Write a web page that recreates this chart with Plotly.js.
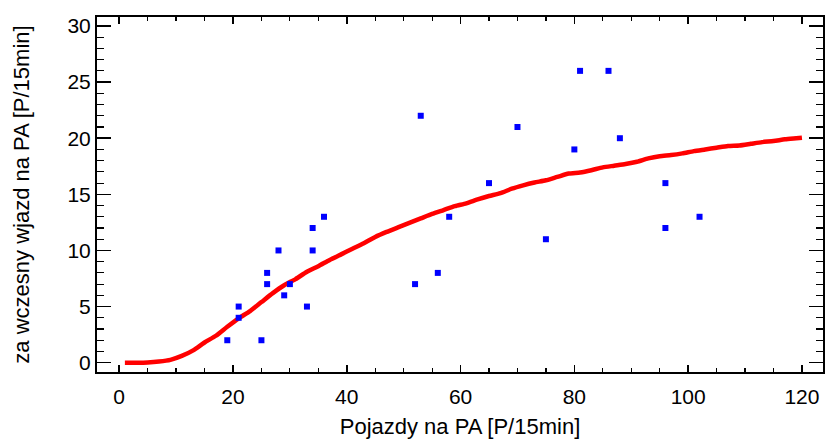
<!DOCTYPE html>
<html>
<head>
<meta charset="utf-8">
<script src="https://cdn.plot.ly/plotly-3.0.1.min.js"></script>
<style>html,body{margin:0;padding:0;background:#fff;}#chart{width:825px;height:439px;}</style>
</head>
<body>
<div id="chart"></div>
<script>
// Observed points
const pointsX = [19, 21, 21, 25, 26, 26, 28, 29, 30, 33, 34, 34, 36, 52, 53, 56, 58, 65, 70, 75, 80, 81, 86, 88, 96, 96, 102];
const pointsY = [2, 5, 4, 2, 8, 7, 10, 6, 7, 5, 10, 12, 13, 7, 22, 8, 13, 16, 21, 11, 19, 26, 26, 20, 16, 12, 13];

// Fitted curve
const curveX = [1, 3, 5, 7, 9, 11, 13, 15, 17, 19, 21, 23, 25, 27, 29, 31, 33, 35, 37, 39, 41, 43, 45, 47, 49, 51, 53, 55, 57, 59, 61, 63, 65, 67, 69, 71, 73, 75, 77, 79, 81, 83, 85, 87, 89, 91, 93, 95, 97, 99, 101, 103, 105, 107, 109, 111, 113, 115, 117, 119, 120];
const curveY = [0, 0, 0.02, 0.1, 0.25, 0.6, 1.1, 1.8, 2.4, 3.2, 3.95, 4.6, 5.4, 6.2, 6.9, 7.45, 8.1, 8.6, 9.15, 9.65, 10.15, 10.65, 11.2, 11.65, 12.05, 12.45, 12.85, 13.25, 13.6, 13.95, 14.2, 14.55, 14.85, 15.1, 15.5, 15.8, 16.05, 16.25, 16.55, 16.85, 16.95, 17.15, 17.4, 17.55, 17.7, 17.9, 18.2, 18.4, 18.5, 18.65, 18.85, 19.0, 19.15, 19.3, 19.35, 19.5, 19.65, 19.75, 19.9, 20.0, 20.05];

const xTitle = 'Pojazdy na PA [P/15min]';
const yTitle = 'za wczesny wjazd na PA [P/15min]';

const traces = [
  {
    x: curveX, y: curveY, type: 'scatter', mode: 'lines',
    line: {color: '#ff0000', width: 4.5, shape: 'spline', smoothing: 0.6},
    hoverinfo: 'skip', showlegend: false
  },
  {
    x: pointsX, y: pointsY, type: 'scatter', mode: 'markers',
    marker: {color: '#0000ff', size: 6, symbol: 'square'},
    showlegend: false
  }
];

const font = {family: 'Liberation Sans, Arial, sans-serif', color: '#000'};

const layout = {
  width: 825, height: 439,
  margin: {l: 97, r: 2, t: 17, b: 67, pad: 0},
  paper_bgcolor: '#fff', plot_bgcolor: '#fff',
  showlegend: false,
  xaxis: {
    range: [-3.9, 123.7],
    tickmode: 'linear', tick0: 0, dtick: 20,
    ticks: 'inside', ticklen: 7, tickwidth: 1.5, tickcolor: '#000',
    minor: {dtick: 5, ticks: 'inside', ticklen: 4, tickwidth: 1.2, tickcolor: '#000'},
    showline: true, linewidth: 2, linecolor: '#000', mirror: 'ticks',
    showgrid: false, zeroline: false,
    ticklabelstandoff: 5,
    tickfont: Object.assign({size: 21}, font),
    title: {text: xTitle, font: Object.assign({size: 22}, font), standoff: 15}
  },
  yaxis: {
    range: [-0.83, 30.8],
    tickmode: 'linear', tick0: 0, dtick: 5,
    ticks: 'inside', ticklen: 14, tickwidth: 1.5, tickcolor: '#000',
    minor: {dtick: 1, ticks: 'inside', ticklen: 7, tickwidth: 1.2, tickcolor: '#000'},
    showline: true, linewidth: 2, linecolor: '#000', mirror: 'ticks',
    showgrid: false, zeroline: false,
    tickfont: Object.assign({size: 21}, font),
    title: {text: yTitle, font: Object.assign({size: 22}, font), standoff: 32}
  }
};

Plotly.newPlot('chart', traces, layout, {displayModeBar: false, staticPlot: true});
</script>
</body>
</html>
